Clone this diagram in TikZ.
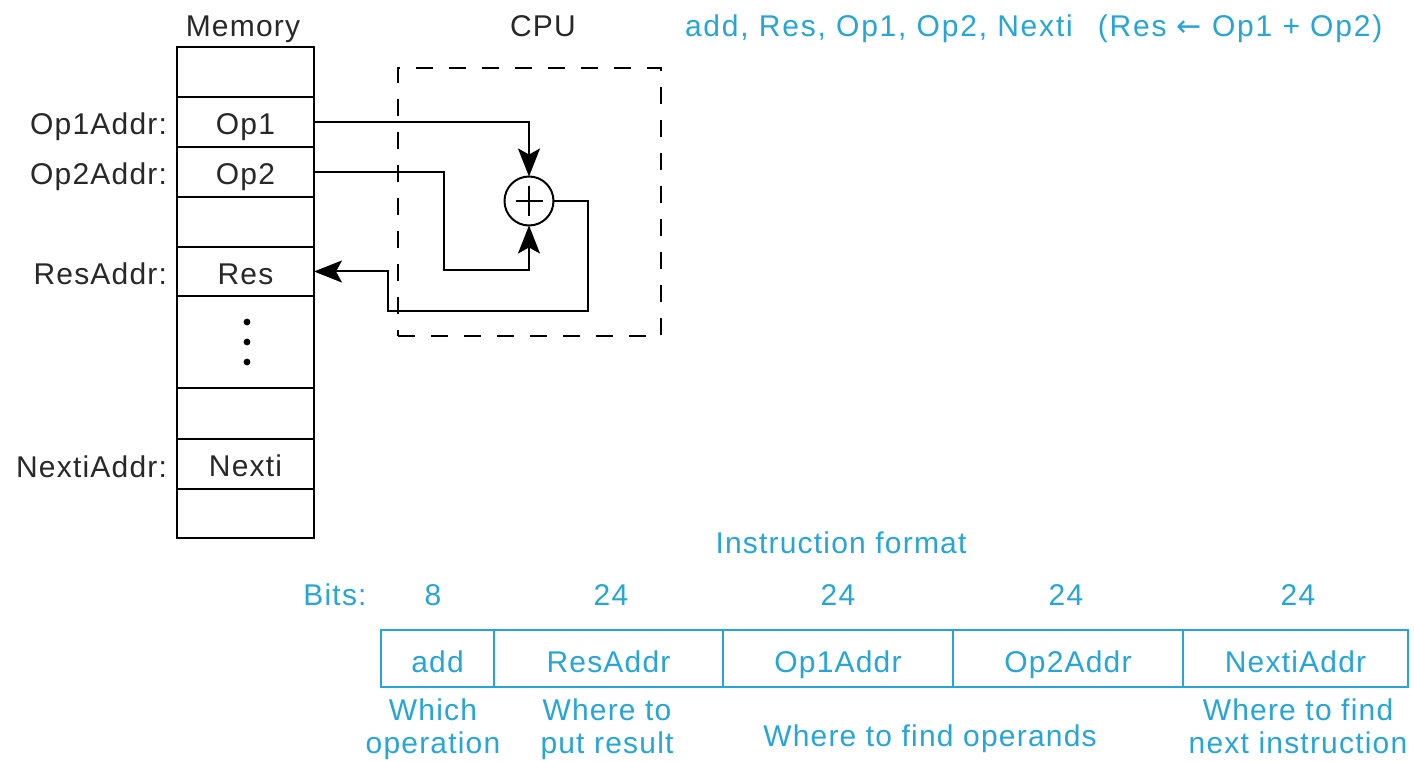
\documentclass[tikz,border=0pt]{standalone}
\usepackage{fontspec}
\setmainfont{Liberation Sans}[LetterSpace=4]
\newfontfamily\symfont{DejaVu Sans}[Scale=1.0]
\newfontfamily\widefont{Liberation Sans}[LetterSpace=6]
\usetikzlibrary{arrows.meta}
\definecolor{ink}{RGB}{40,40,40}
\definecolor{cblue}{RGB}{38,165,214}
\begin{document}
\begin{tikzpicture}[x=1pt,y=-1pt,
  every node/.style={font=\fontsize{30}{33}\selectfont, text=ink, inner sep=0pt, outer sep=0pt},
  memcell/.style={draw=black, line width=2.2pt, minimum width=137pt, text height=25pt, text depth=0pt},
  fmtcell/.style={draw=cblue, line width=2pt, minimum height=57pt, text=cblue, text height=27pt, text depth=0pt},
  bluetxt/.style={text=cblue},
  arr/.style={line width=2pt, -{Stealth[length=28pt,width=22pt,inset=6pt]}},
  cpubox/.style={draw=black, line width=2pt, dash pattern=on 17pt off 16pt, minimum width=263pt, minimum height=268pt}
]
\useasboundingbox (0,0) rectangle (1414,762);

% titles
\node[anchor=base] (memtitle) at (243,37) {Memory};
\node[anchor=base] (cputitle) at (543,37) {CPU};
\node[anchor=base west, bluetxt, font=\widefont\fontsize{30}{33}\selectfont] (instr) at (685,37) {add, Res, Op1, Op2, Nexti\hspace{0.5em} (Res {\symfont\fontsize{30}{30}\selectfont ←} Op1 + Op2)};

% CPU dashed box
\node[cpubox] (cpu) at (529.5,202) {};

% memory cells
\node[memcell, minimum height=50pt] (m0) at (245.5,72) {};
\node[memcell, minimum height=50pt] (m1) at (245.5,122) {Op1};
\node[memcell, minimum height=50pt] (m2) at (245.5,172) {Op2};
\node[memcell, minimum height=50pt] (m3) at (245.5,222) {};
\node[memcell, minimum height=49pt] (m4) at (245.5,271.5) {Res};
\node[memcell, minimum height=92pt] (m5) at (245.5,342) {};
\node[memcell, minimum height=51pt] (m6) at (245.5,413.5) {};
\node[memcell, minimum height=50pt] (m7) at (245.5,464) {Nexti};
\node[memcell, minimum height=49pt] (m8) at (245.5,513.5) {};

\fill (247,322) circle (3.4pt);
\fill (247,342) circle (3.4pt);
\fill (247,362) circle (3.4pt);

% address labels
\node[anchor=base east] (l1) at (167,135) {Op1Addr:};
\node[anchor=base east] (l2) at (167,185) {Op2Addr:};
\node[anchor=base east] (l4) at (167,284) {ResAddr:};
\node[anchor=base east] (l7) at (167,477) {NextiAddr:};

% adder
\node[circle, draw=black, line width=2pt, minimum size=49pt] (plus) at (529,201) {};
\draw[line width=1.6pt] ([xshift=-13.5pt]plus.center) -- ([xshift=13.5pt]plus.center);
\draw[line width=1.6pt] ([yshift=-15pt]plus.center) -- ([yshift=15pt]plus.center);

% connectors
\draw[arr] (m1.east) -| (plus.north);
\draw[arr] (m2.east) -- (444,172) -- (444,270) -| (plus.south);
\draw[arr] (plus.east) -- (588,201) -- (588,311) -- (388,311) -- (388,271.5) -- (m4.east);

% instruction format
\node[anchor=base, bluetxt] (fmttitle) at (841,553) {Instruction format};
\node[anchor=base, bluetxt] (bits) at (335,605) {Bits:};
\node[anchor=base, bluetxt] (b1) at (433,605) {8};
\node[anchor=base, bluetxt] (b2) at (611,605) {24};
\node[anchor=base, bluetxt] (b3) at (838,605) {24};
\node[anchor=base, bluetxt] (b4) at (1066,605) {24};
\node[anchor=base, bluetxt] (b5) at (1298,605) {24};

\node[fmtcell, minimum width=113pt] (c1) at (437.5,658.5) {add};
\node[fmtcell, minimum width=229pt] (c2) at (608.5,658.5) {ResAddr};
\node[fmtcell, minimum width=230pt] (c3) at (838,658.5) {Op1Addr};
\node[fmtcell, minimum width=230pt] (c4) at (1068,658.5) {Op2Addr};
\node[fmtcell, minimum width=225pt] (c5) at (1295.5,658.5) {NextiAddr};

\node[anchor=base, bluetxt] (d1a) at (433,720) {Which};
\node[anchor=base, bluetxt] (d1b) at (433,753) {operation};
\node[anchor=base, bluetxt] (d2a) at (607,720) {Where to};
\node[anchor=base, bluetxt] (d2b) at (607,753) {put result};
\node[anchor=base, bluetxt] (d3) at (930,746) {Where to find operands};
\node[anchor=base, bluetxt] (d5a) at (1298,720) {Where to find};
\node[anchor=base, bluetxt] (d5b) at (1298,753) {next instruction};
\end{tikzpicture}
\end{document}
